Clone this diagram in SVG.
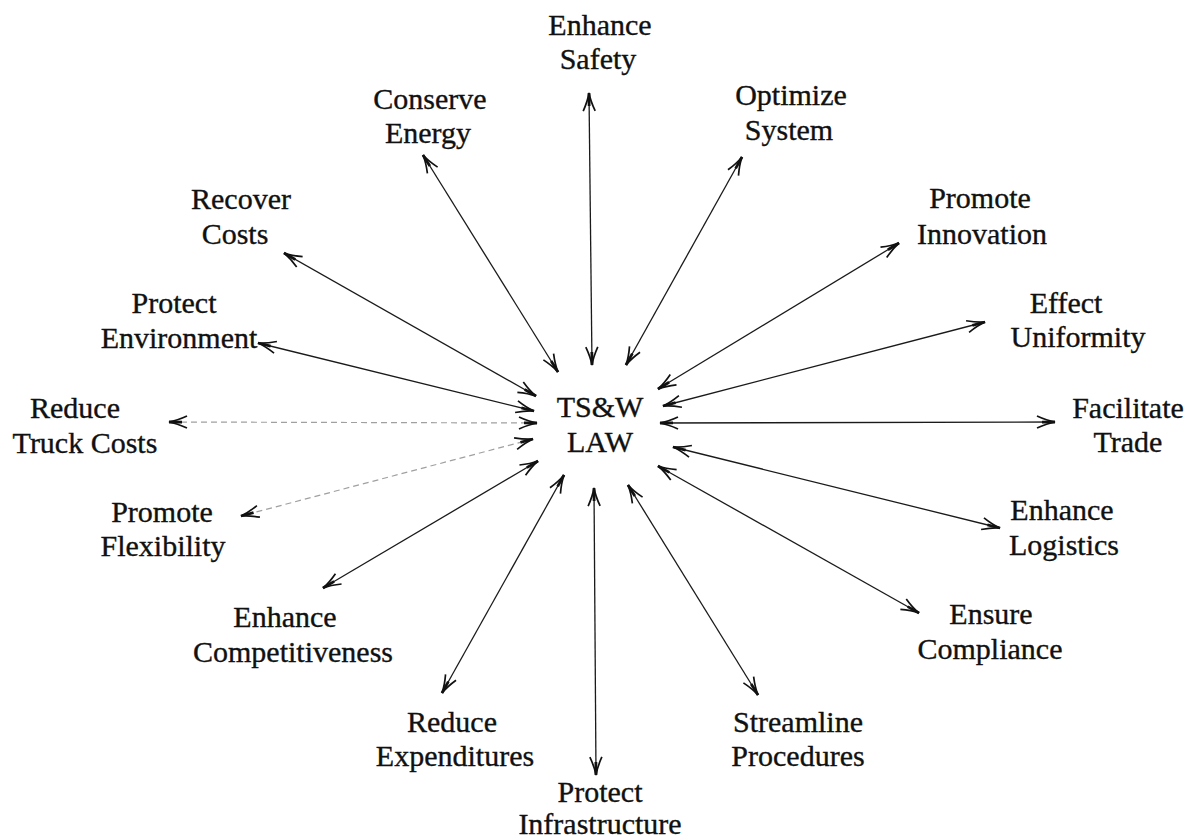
<svg xmlns="http://www.w3.org/2000/svg" width="1187" height="839" viewBox="0 0 1187 839">
<style>
text{font-family:"Liberation Serif","Times New Roman",serif;font-size:30px;fill:#111;stroke:#111;stroke-width:0.35;text-anchor:middle}
.c{stroke:#1a1a1a;stroke-width:1.3;fill:none;marker-start:url(#ah);marker-end:url(#ah)}
.f{stroke:#a0a0a0;stroke-dasharray:6 4;stroke-width:1.2}
</style>
<defs>
<marker id="ah" viewBox="-20 -8 22 16" refX="0" refY="0" markerUnits="userSpaceOnUse" markerWidth="22" markerHeight="16" orient="auto-start-reverse">
<path d="M-18,-6 Q-8,-1.4 0,0 Q-8,1.4 -18,6" fill="none" stroke="#111" stroke-width="1.7"/>
<path d="M-13,0 L0,0" fill="none" stroke="#111" stroke-width="2.8"/>
</marker>
</defs>
<rect width="1187" height="839" fill="#fff"/>
<g id="connectors">
<line class="c" x1="592" y1="365" x2="589" y2="93"/>
<line class="c" x1="558" y1="372" x2="423" y2="155"/>
<line class="c" x1="626" y1="365" x2="742" y2="157"/>
<line class="c" x1="658" y1="389" x2="899" y2="243"/>
<line class="c" x1="663" y1="406" x2="985" y2="322"/>
<line class="c" x1="660" y1="423" x2="1055" y2="422"/>
<line class="c" x1="673" y1="447" x2="1000" y2="528"/>
<line class="c" x1="658" y1="466" x2="919" y2="613"/>
<line class="c" x1="628" y1="485" x2="758" y2="695"/>
<line class="c" x1="594" y1="488" x2="596" y2="775"/>
<line class="c" x1="564" y1="475" x2="442" y2="693"/>
<line class="c" x1="538" y1="461" x2="323" y2="588"/>
<line class="c f" x1="533" y1="439" x2="241" y2="516"/>
<line class="c f" x1="537" y1="423" x2="169" y2="422"/>
<line class="c" x1="534" y1="411" x2="258" y2="343"/>
<line class="c" x1="536" y1="396" x2="284" y2="253"/>
</g>
<g id="center"><text x="600" y="417">TS&amp;W</text><text x="600" y="452">LAW</text></g>
<g id="enhance-safety"><text x="600" y="35">Enhance</text><text x="598" y="69">Safety</text></g>
<g id="conserve-energy"><text x="430" y="109">Conserve</text><text x="428" y="143">Energy</text></g>
<g id="optimize-system"><text x="791" y="105">Optimize</text><text x="789" y="140">System</text></g>
<g id="recover-costs"><text x="241" y="209">Recover</text><text x="235" y="244">Costs</text></g>
<g id="promote-innovation"><text x="980" y="208">Promote</text><text x="982" y="244">Innovation</text></g>
<g id="protect-environment"><text x="174" y="313">Protect</text><text x="179" y="348">Environment</text></g>
<g id="effect-uniformity"><text x="1066" y="313">Effect</text><text x="1078" y="347">Uniformity</text></g>
<g id="reduce-truck-costs"><text x="75" y="418">Reduce</text><text x="85" y="453">Truck Costs</text></g>
<g id="facilitate-trade"><text x="1128" y="418">Facilitate</text><text x="1128" y="452">Trade</text></g>
<g id="promote-flexibility"><text x="162" y="522">Promote</text><text x="163" y="556">Flexibility</text></g>
<g id="enhance-logistics"><text x="1062" y="520">Enhance</text><text x="1064" y="555">Logistics</text></g>
<g id="enhance-competitiveness"><text x="285" y="627">Enhance</text><text x="293" y="662">Competitiveness</text></g>
<g id="ensure-compliance"><text x="991" y="624">Ensure</text><text x="990" y="659">Compliance</text></g>
<g id="reduce-expenditures"><text x="452" y="732">Reduce</text><text x="455" y="766">Expenditures</text></g>
<g id="streamline-procedures"><text x="798" y="732">Streamline</text><text x="798" y="766">Procedures</text></g>
<g id="protect-infrastructure"><text x="600" y="802">Protect</text><text x="600" y="834">Infrastructure</text></g>
</svg>
